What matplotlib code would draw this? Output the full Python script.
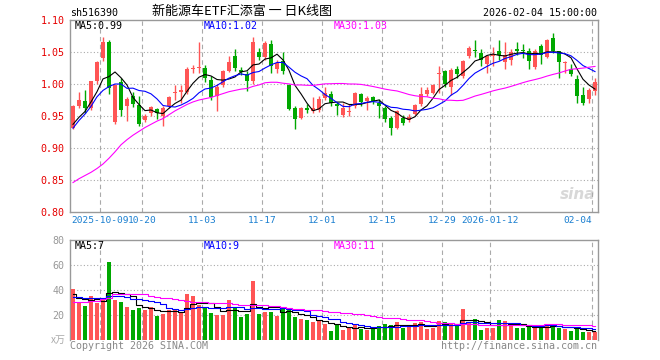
import numpy as np
import pandas as pd
import matplotlib
matplotlib.use('Agg')
import matplotlib.pyplot as plt

# daily candles, 516390, 2025-09-24 .. 2026-02-04 (88 sessions)
opens = [0.932, 0.965, 0.973, 0.963, 1.004, 1.040, 1.066, 0.941, 1.003, 0.965,
         0.981, 0.967, 0.944, 0.954, 0.961, 0.950, 0.966, 0.986, 0.988, 0.988,
         1.024, 1.025, 1.025, 1.006, 0.982, 0.998, 1.020, 1.043, 1.022, 1.015,
         1.004, 1.050, 1.042, 1.062, 1.024, 1.036, 0.998, 0.962, 0.947, 0.962,
         0.958, 0.959, 0.978, 0.984, 0.969, 0.951, 0.956, 0.965, 0.984, 0.973,
         0.980, 0.970, 0.962, 0.947, 0.931, 0.947, 0.944, 0.953, 0.968, 0.984,
         0.986, 1.016, 1.020, 0.995, 1.024, 1.012, 1.043, 1.053, 1.048, 1.031,
         1.043, 1.052, 1.035, 1.038, 1.054, 1.052, 1.052, 1.026, 1.059, 1.042,
         1.072, 1.051, 1.033, 1.024, 1.008, 0.983, 0.977, 0.9885]
highs = [0.967, 0.987, 0.990, 1.005, 1.036, 1.074, 1.068, 1.000, 1.010, 0.980,
         0.987, 0.981, 0.953, 0.966, 0.963, 0.965, 0.981, 0.999, 0.999, 1.026,
         1.030, 1.066, 1.029, 1.012, 1.000, 1.022, 1.043, 1.054, 1.026, 1.020,
         1.074, 1.056, 1.067, 1.069, 1.038, 1.050, 1.000, 0.965, 0.964, 0.968,
         0.980, 0.981, 0.996, 0.989, 0.972, 0.970, 0.968, 0.988, 0.986, 0.981,
         0.982, 0.976, 0.965, 0.950, 0.960, 0.951, 0.953, 0.968, 0.996, 0.995,
         1.000, 1.028, 1.022, 1.025, 1.028, 1.038, 1.060, 1.068, 1.054, 1.045,
         1.058, 1.068, 1.066, 1.054, 1.066, 1.062, 1.056, 1.055, 1.062, 1.071,
         1.080, 1.052, 1.036, 1.031, 1.0135, 0.996, 0.993, 1.009]
lows = [0.929, 0.962, 0.955, 0.960, 1.000, 1.036, 0.985, 0.937, 0.950, 0.942,
        0.964, 0.935, 0.941, 0.950, 0.945, 0.934, 0.963, 0.975, 0.971, 0.985,
        1.017, 1.017, 1.003, 0.975, 0.958, 0.995, 1.018, 1.020, 1.014, 0.989,
        1.000, 1.038, 1.038, 1.017, 1.017, 1.015, 0.960, 0.930, 0.945, 0.955,
        0.955, 0.956, 0.975, 0.965, 0.951, 0.948, 0.950, 0.963, 0.965, 0.960,
        0.968, 0.947, 0.940, 0.921, 0.929, 0.936, 0.940, 0.951, 0.966, 0.982,
        0.984, 0.986, 0.995, 0.983, 1.009, 1.010, 1.041, 1.042, 1.028, 1.017,
        1.028, 1.038, 1.024, 1.030, 1.046, 1.041, 1.024, 1.024, 1.031, 1.040,
        1.048, 1.010, 1.017, 1.012, 0.970, 0.967, 0.970, 0.983]
closes = [0.965, 0.975, 0.962, 1.004, 1.034, 1.065, 0.993, 0.998, 0.959, 0.977,
          0.968, 0.938, 0.950, 0.964, 0.955, 0.962, 0.979, 0.988, 0.990, 1.024,
          1.025, 1.026, 1.009, 0.979, 0.996, 1.020, 1.035, 1.025, 1.019, 1.004,
          1.066, 1.042, 1.064, 1.028, 1.033, 1.021, 0.961, 0.946, 0.962, 0.960,
          0.962, 0.976, 0.986, 0.970, 0.965, 0.962, 0.957, 0.986, 0.972, 0.978,
          0.973, 0.966, 0.946, 0.931, 0.958, 0.939, 0.949, 0.967, 0.984, 0.991,
          0.998, 1.017, 1.000, 1.022, 1.015, 1.036, 1.056, 1.051, 1.037, 1.043,
          1.047, 1.046, 1.046, 1.050, 1.052, 1.051, 1.036, 1.051, 1.045, 1.068,
          1.051, 1.035, 1.035, 1.016, 0.981, 0.970, 0.990, 1.003]
# volume in 万
volumes = [40.8, 29.9, 27.2, 35.2, 29.9, 33.3, 62.4, 32.0, 30.4, 26.4,
           24.0, 25.6, 24.0, 26.1, 19.2, 20.8, 24.0, 24.5, 21.6, 36.8,
           35.2, 28.0, 25.9, 21.3, 20.0, 20.0, 32.0, 25.9, 18.7, 20.8,
           47.2, 20.8, 22.4, 22.4, 19.2, 26.1, 24.0, 18.4, 17.1, 16.0,
           14.7, 15.5, 12.8, 7.2, 12.5, 8.0, 9.9, 12.0, 8.8, 8.0,
           10.1, 11.2, 12.8, 12.0, 14.4, 9.6, 11.2, 13.6, 14.4, 8.8,
           9.6, 15.0, 14.5, 12.8, 12.3, 24.8, 14.4, 16.5, 8.0, 9.9,
           9.9, 16.0, 15.0, 12.0, 9.6, 9.6, 10.4, 10.7, 10.1, 13.0,
           12.5, 9.6, 8.8, 7.6, 9.6, 6.5, 6.4, 6.4]

# averages at the left edge (history before the window is not shown)
ma5_head = [0.937, 0.948, 0.957, 0.972]
ma10_head = [0.931, 0.943, 0.953, 0.965, 0.980, 0.990, 0.996, 1.000, 1.000]
ma30_head = [0.846, 0.852, 0.857, 0.862, 0.868, 0.875, 0.884, 0.894, 0.905, 0.913,
             0.920, 0.926, 0.932, 0.937, 0.942, 0.946, 0.952, 0.958, 0.963, 0.968,
             0.972, 0.975, 0.977, 0.979, 0.982, 0.985, 0.988, 0.990, 0.992]
vma5_head = [36.5, 33.5, 32.5, 32.0]
vma10_head = [34.7, 34.2, 34.0, 34.0, 34.0, 33.8, 35.5, 35.5, 35.5]
vma30_head = [30.7, 30.7, 30.7, 31.5, 31.5, 32.5, 33.3, 36.5, 36.5, 36.5,
              36.5, 36.5, 36.5, 35.5, 34.7, 34.0, 33.3, 32.5, 32.0, 31.0,
              30.7, 30.7, 30.5, 30.0, 29.3, 29.3, 29.3, 28.5, 28.0]

tick_labels = ['2025-10-09', '10-20', '11-03', '11-17', '12-01', '12-15',
               '12-29', '2026-01-12', '02-04']
tick_idx = [5, 12, 22, 32, 42, 52, 62, 70, 87]


def moving_avg(vals, n, head):
    s = pd.Series(vals, dtype=float).rolling(n).mean()
    s.iloc[:len(head)] = head
    return s.values


ma5 = moving_avg(closes, 5, ma5_head)
ma10 = moving_avg(closes, 10, ma10_head)
ma30 = moving_avg(closes, 30, ma30_head)
vma5 = moving_avg(volumes, 5, vma5_head)
vma10 = moving_avg(volumes, 10, vma10_head)
vma30 = moving_avg(volumes, 30, vma30_head)

RED = '#ff5555'
GREEN = '#00a800'
GRID = '#aaaaaa'
MONO = 'DejaVu Sans Mono'
FS = 7.2

o = np.array(opens)
c = np.array(closes)
x = np.arange(len(closes))
colors = np.where(c >= o, RED, GREEN)

W, H = 660, 360
fig = plt.figure(figsize=(W / 100, H / 100), dpi=100)
ax = fig.add_axes([70 / W, 1 - 212 / H, 528 / W, 192 / H])
axv = fig.add_axes([70 / W, 1 - 340 / H, 528 / W, 100 / H])

# price panel
ax.vlines(x, lows, highs, colors=colors, lw=1, zorder=3)
ax.bar(x, np.maximum(np.abs(c - o), 0.0017), bottom=np.minimum(o, c), width=0.8,
       color=colors, lw=0, zorder=4)
ax.plot(x, ma5, color='black', lw=0.8, zorder=5)
ax.plot(x, ma10, color='#0000ff', lw=0.8, zorder=5)
ax.plot(x, ma30, color='#ff00ff', lw=0.8, zorder=5)
ax.set_ylim(0.80, 1.10)
ax.set_yticks([0.80, 0.85, 0.90, 0.95, 1.00, 1.05, 1.10])
ax.set_yticklabels(['%.2f' % v for v in [0.80, 0.85, 0.90, 0.95, 1.00, 1.05, 1.10]],
                   color='#e60000', fontsize=FS, family=MONO)
for v in [0.85, 0.90, 0.95, 1.00, 1.05]:
    ax.axhline(v, color=GRID, lw=0.8, ls=(0, (1, 2)), zorder=1)

# volume panel
axv.bar(x, volumes, width=0.8, color=colors, lw=0, zorder=3)
axv.plot(x, vma5, color='black', lw=0.8, drawstyle='steps-mid', zorder=5)
axv.plot(x, vma10, color='#0000ff', lw=0.8, drawstyle='steps-mid', zorder=5)
axv.plot(x, vma30, color='#ff00ff', lw=0.8, drawstyle='steps-mid', zorder=5)
axv.set_ylim(0, 80)
axv.set_yticks([20, 40, 60, 80])
axv.set_yticklabels(['20', '40', '60', '80'], color='#999999', fontsize=FS, family=MONO)
for v in [20, 40, 60]:
    axv.axhline(v, color=GRID, lw=0.8, ls=(0, (1, 2)), zorder=1)
axv.spines['bottom'].set_visible(False)

for a in (ax, axv):
    a.set_xlim(-0.5, len(closes) - 0.5)
    a.set_xticks([])
    a.tick_params(axis='y', length=0, pad=4)
    for sp in a.spines.values():
        sp.set_color('#999999')
        sp.set_linewidth(1)
    for i in tick_idx:
        a.axvline(i - 0.5, color=GRID, lw=0.8, ls=(0, (4, 3)), zorder=1)

# date labels under the price panel
for i, lab in zip(tick_idx, tick_labels):
    pos = i - 0.5
    ha = 'center'
    if pos - len(lab) * 0.5 < -0.5:
        pos, ha = -0.5, 'left'
    elif i == len(closes) - 1:
        ha = 'right'
    ax.text(pos, 0.786, lab, ha=ha, va='center', color='#1a7fd0',
            fontsize=6.8, family=MONO, clip_on=False)

# header
fig.text(70 / W, 1 - 13 / H, 'sh516390', ha='left', va='center', fontsize=FS, family=MONO)
fig.text(242 / W, 1 - 12 / H, '新能源车ETF汇添富 一 日K线图', ha='center', va='center',
         fontsize=9.4, family=['Noto Sans CJK SC', 'DejaVu Sans'])
fig.text(597 / W, 1 - 13 / H, '2026-02-04 15:00:00', ha='right', va='center',
         fontsize=FS, family=MONO)

# MA captions
fig.text(75 / W, 1 - 26 / H, 'MA5:%.2f' % ma5[-1], color='black', va='center', fontsize=FS, family=MONO)
fig.text(204 / W, 1 - 26 / H, 'MA10:%.2f' % ma10[-1], color='#0000ff', va='center', fontsize=FS, family=MONO)
fig.text(334 / W, 1 - 26 / H, 'MA30:%.2f' % ma30[-1], color='#ff00ff', va='center', fontsize=FS, family=MONO)
fig.text(75 / W, 1 - 246 / H, 'MA5:%d' % int(vma5[-1]), color='black', va='center', fontsize=FS, family=MONO)
fig.text(204 / W, 1 - 246 / H, 'MA10:%d' % int(vma10[-1]), color='#0000ff', va='center', fontsize=FS, family=MONO)
fig.text(334 / W, 1 - 246 / H, 'MA30:%d' % int(vma30[-1]), color='#ff00ff', va='center', fontsize=FS, family=MONO)

fig.text(66 / W, 1 - 340 / H, 'x万', ha='right', va='center', color='#aaaaaa', fontsize=FS,
         family=['Noto Sans CJK SC', 'DejaVu Sans'])
fig.text(70 / W, 1 - 346 / H, 'Copyright 2026 SINA.COM', ha='left', va='center',
         color='#888888', fontsize=FS, family=MONO)
fig.text(597 / W, 1 - 346 / H, 'http://finance.sina.com.cn', ha='right', va='center',
         color='#888888', fontsize=FS, family=MONO)

# watermark
ax.text(0.995, 0.05, 'sina', transform=ax.transAxes, ha='right', va='bottom',
        color='#d8d8d8', fontsize=11, fontweight='bold', style='italic', zorder=0)

fig.savefig('out.png', dpi=100)
